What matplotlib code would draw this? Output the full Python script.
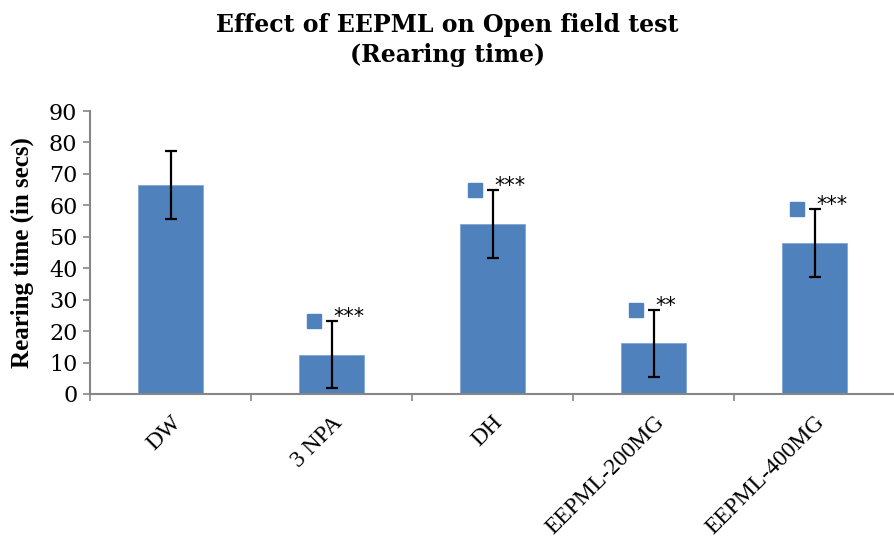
import matplotlib
matplotlib.use("Agg")
import matplotlib.pyplot as plt
import matplotlib.transforms as mtransforms
import numpy as np

categories = ["DW", "3 NPA", "DH", "EEPML-200MG", "EEPML-400MG"]
means = [66.5, 12.5, 54.1, 16.1, 48.0]
errors = [10.8, 10.7, 10.8, 10.6, 10.8]
stars = ["", "***", "***", "**", "***"]
yticks = [0, 10, 20, 30, 40, 50, 60, 70, 80, 90]

BAR = "#4F81BD"
GREY = "#868686"
FONT = "DejaVu Serif"

fig = plt.figure(figsize=(8.95, 5.40), dpi=100)
ax = fig.add_axes([90/895, (540-394)/540, (895-90)/895, (394-111)/540])

x = np.arange(len(categories))
ax.bar(x, means, width=0.4, color=BAR, edgecolor="#7fa6d6", linewidth=0.6, zorder=2)
ax.errorbar(x, means, yerr=errors, fmt="none", ecolor="black", elinewidth=1.6,
            capsize=4.5, capthick=1.6, zorder=3)

ax.set_xlim(-0.5, -0.5 + 805/163)
ax.set_ylim(0, 90)
ax.set_yticks(yticks)
ax.set_yticklabels([str(v) for v in yticks], fontfamily=FONT, fontsize=16)
ax.tick_params(axis="y", direction="out", length=5, width=1.2, color=GREY, pad=4)

ax.set_xticks(np.arange(-0.5, len(categories), 1.0))
ax.set_xticklabels([])
ax.tick_params(axis="x", which="major", direction="out", length=5, width=1.2, color=GREY)
ax.set_xticks(x, minor=True)
ax.set_xticklabels(categories, minor=True, rotation=45, ha="right", va="top",
                   rotation_mode="anchor", fontfamily="Liberation Serif", fontsize=17)
ax.tick_params(axis="x", which="minor", length=0, pad=13)

for s in ["top", "right"]:
    ax.spines[s].set_visible(False)
for s in ["left", "bottom"]:
    ax.spines[s].set_color(GREY)
    ax.spines[s].set_linewidth(1.5)

ax.set_ylabel("Rearing time (in secs)", fontfamily="Liberation Serif", fontweight="bold",
              fontsize=18, labelpad=11)

fig.text(0.5, 1 - 40/540, "Effect of EEPML on Open field test\n(Rearing time)",
         ha="center", va="center", fontfamily=FONT, fontweight="bold", fontsize=17,
         linespacing=1.3)

for xi, m, e, st in zip(x, means, errors, stars):
    if not st:
        continue
    top = m + e
    tr = mtransforms.offset_copy(ax.transData, fig=fig, x=-18, y=0, units="dots")
    ax.plot([xi], [top], marker="s", markersize=10, color=BAR, transform=tr,
            linestyle="none", clip_on=False, zorder=4)
    ax.annotate(st, xy=(xi, top), xytext=(1.5, 4), textcoords="offset pixels",
                ha="left", va="center", fontfamily="DejaVu Sans", fontsize=15, zorder=4)

fig.savefig("out.png", dpi=100)
